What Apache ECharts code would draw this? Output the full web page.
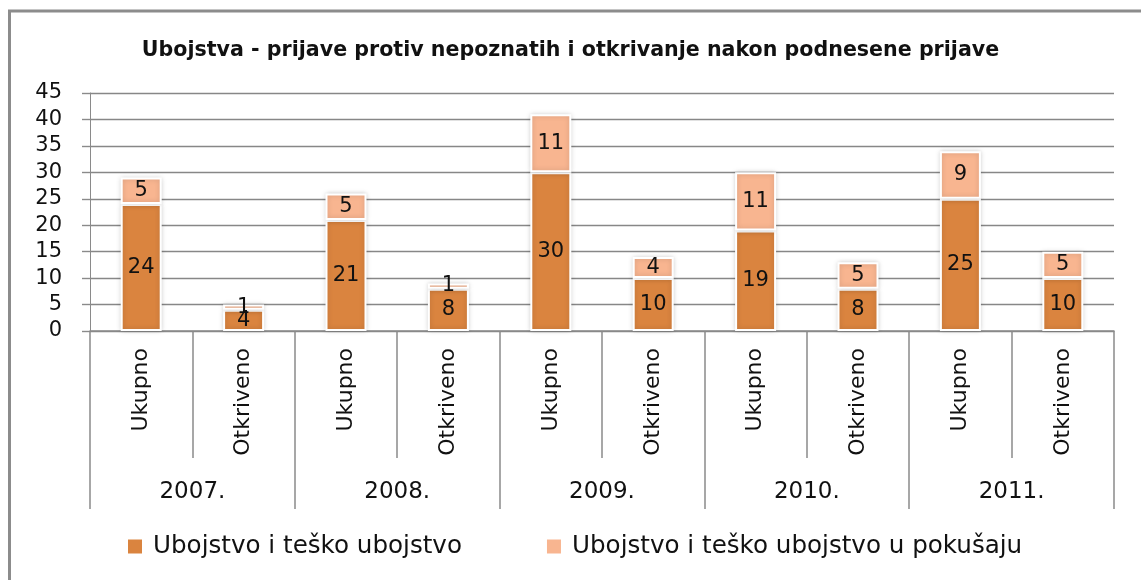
<!DOCTYPE html>
<html>
<head>
<meta charset="utf-8">
<script src="https://cdn.jsdelivr.net/npm/echarts@6/dist/echarts.min.js"></script>
<style>
  html, body { margin: 0; padding: 0; background: #fff; }
  #main { width: 1141px; height: 580px; }
</style>
</head>
<body>
<div id="main"></div>
<script>
// podaci
const years = ['2007.', '2008.', '2009.', '2010.', '2011.'];
const kinds = ['Ukupno', 'Otkriveno'];
const categories = years.flatMap(() => kinds);
const ubojstvo = [24, 4, 21, 8, 30, 10, 19, 8, 25, 10];
const pokusaj = [5, 1, 5, 1, 11, 4, 11, 5, 9, 5];
const seriesNames = ['Ubojstvo i teško ubojstvo', 'Ubojstvo i teško ubojstvo u pokušaju'];

const font = "'DejaVu Sans', Verdana, sans-serif";
const gray = '#8a8a8a';

const barStyle = color => ({
    color,
    borderColor: '#fff',
    borderWidth: 2,
    shadowBlur: 5,
    shadowColor: 'rgba(0,0,0,0.18)'
});

const labelStyle = {
    show: true,
    position: 'inside',
    color: '#111',
    fontFamily: font,
    fontSize: 21
};

const myChart = echarts.init(document.getElementById('main'), null, {renderer: 'canvas'});
const option = {
    animation: false,
    title: {
        text: 'Ubojstva - prijave protiv nepoznatih i otkrivanje nakon podnesene prijave',
        left: 'center',
        top: 35,
        textStyle: {
            fontFamily: font,
            fontWeight: 'bold',
            fontSize: 20.6,
            color: '#111'
        }
    },
    legend: {
        data: seriesNames,
        bottom: 16,
        left: 121,
        itemWidth: 16,
        itemHeight: 16,
        itemGap: 83,
        icon: 'rect',
        textStyle: { fontFamily: font, fontSize: 24.6, color: '#111', padding: [0, 0, 0, 5] }
    },
    grid: { left: 90, right: 27, top: 93, bottom: 249 },
    xAxis: [
        {
            type: 'category',
            data: categories,
            axisLine: { show: true, lineStyle: { color: gray, width: 1.5 } },
            axisTick: { show: true, length: 127, interval: 0, lineStyle: { color: gray, width: 1.5 } },
            axisLabel: {
                interval: 0,
                rotate: 90,
                margin: 17,
                color: '#111',
                fontFamily: font,
                fontSize: 22
            }
        },
        {
            type: 'category',
            data: years,
            position: 'bottom',
            axisLine: { show: false },
            axisTick: { show: true, length: 178, interval: 0, lineStyle: { color: gray, width: 1.5 } },
            axisLabel: {
                interval: 0,
                margin: 150,
                color: '#111',
                fontFamily: font,
                fontSize: 23
            }
        }
    ],
    yAxis: {
        type: 'value',
        min: 0,
        max: 45,
        interval: 5,
        axisLine: { show: true, lineStyle: { color: gray, width: 1 } },
        axisTick: { show: true, length: 8, lineStyle: { color: gray, width: 1.4 } },
        axisLabel: { margin: 28, color: '#111', fontFamily: font, fontSize: 21 },
        splitLine: { lineStyle: { color: '#878787', width: 1.4 } }
    },
    series: [
        {
            name: seriesNames[0],
            type: 'bar',
            stack: 'a',
            barWidth: 41,
            data: ubojstvo,
            itemStyle: barStyle('#da843f'),
            label: labelStyle
        },
        {
            name: seriesNames[1],
            type: 'bar',
            stack: 'a',
            barWidth: 41,
            data: pokusaj,
            itemStyle: barStyle('#f8b590'),
            label: labelStyle
        }
    ],
    graphic: [
        // okvir (gornji i lijevi rub)
        { type: 'line', shape: { x1: 8, y1: 11, x2: 1141, y2: 11 }, style: { stroke: '#8c8c8c', lineWidth: 3 } },
        { type: 'line', shape: { x1: 9.5, y1: 10, x2: 9.5, y2: 580 }, style: { stroke: '#8c8c8c', lineWidth: 3 } }
    ]
};
myChart.setOption(option);
</script>
</body>
</html>
